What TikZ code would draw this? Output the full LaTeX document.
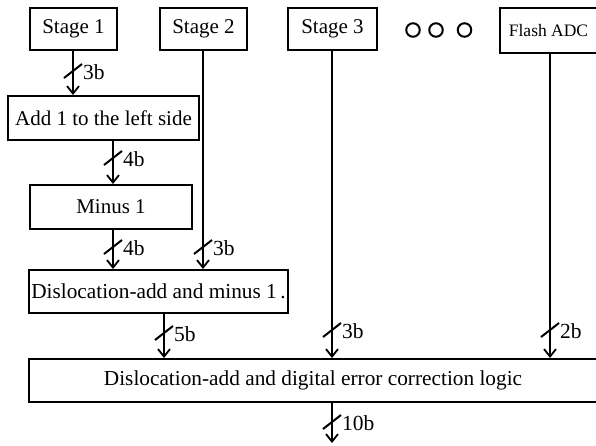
\documentclass[tikz,border=0pt]{standalone}
\usepackage{fontspec}
\setmainfont{Liberation Serif}
\usetikzlibrary{arrows.meta,calc}
\begin{document}
\begin{tikzpicture}[x=1pt,y=-1pt,
  box/.style={draw,line width=2pt,rectangle,inner sep=0pt,font=\fontsize{21}{25}\selectfont},
  arr/.style={line width=2pt,-{Straight Barb[length=7.5pt,width=12pt,line width=1.8pt]}},
  slashmark/.style={line width=2pt},
  lbl/.style={font=\fontsize{21.5}{25}\selectfont,inner sep=0pt,anchor=west},
  dot/.style={circle,draw,line width=2pt,minimum size=13.5pt,inner sep=0pt}]
\useasboundingbox (0,0) rectangle (596,445);
% boxes
\node[box,minimum width=87pt,minimum height=42pt] (s1) at (73.5,29) {Stage 1};
\node[box,minimum width=87pt,minimum height=42pt] (s2) at (203.5,29) {Stage 2};
\node[box,minimum width=89pt,minimum height=42pt] (s3) at (332.5,29) {Stage 3};
\node[box,minimum width=97pt,minimum height=45pt,font=\fontsize{17.5}{21}\selectfont] (fa) at (548.5,30.5) {Flash ADC};
\node[dot] (c1) at (413,30) {};
\node[dot] (c2) at (436,30) {};
\node[dot] (c3) at (464.5,30) {};
\node[box,minimum width=191pt,minimum height=44pt] (add) at (103.5,118) {Add 1 to the left side};
\node[box,minimum width=162pt,minimum height=44pt] (m1) at (111,207) {Minus 1};
\node[box,minimum width=259pt,minimum height=43pt,font=\fontsize{21.3}{25}\selectfont] (dis) at (158.5,291.5) {Dislocation-add and minus 1\,.};
\node[box,minimum width=568pt,minimum height=43pt,font=\fontsize{21.3}{25}\selectfont] (big) at (313,380.5) {Dislocation-add and digital error correction logic};
\coordinate (out) at (332,443);
% connectors
\draw[arr] (s1.south -| 73,0) -- (add.north -| 73,0);
\draw[arr] (add.south -| 113,0) -- (m1.north -| 113,0);
\draw[arr] (m1.south -| 113,0) -- (dis.north -| 113,0);
\draw[arr] (s2.south -| 203,0) -- (dis.north -| 203,0);
\draw[arr] (dis.south -| 164,0) -- (big.north -| 164,0);
\draw[arr] (s3.south -| 332,0) -- (big.north -| 332,0);
\draw[arr] (fa.south -| 550,0) -- (big.north -| 550,0);
\draw[arr] (big.south -| out) -- (out);
% bus width marks
\foreach \n/\x/\y/\t in {b1/73/71/3b, b2/113/158/4b, b3/113/247/4b, b4/203/247/3b,
                         b5/164/333/5b, b6/332/330/3b, b7/550/330/2b, b8/332/422/10b}{
  \coordinate (\n) at (\x,\y);
  \draw[slashmark] ($(\n)+(-9,7)$) -- ($(\n)+(9,-7)$);
  \node[lbl] (\n-l) at ($(\n)+(10,1)$) {\t};
}
\end{tikzpicture}
\end{document}
